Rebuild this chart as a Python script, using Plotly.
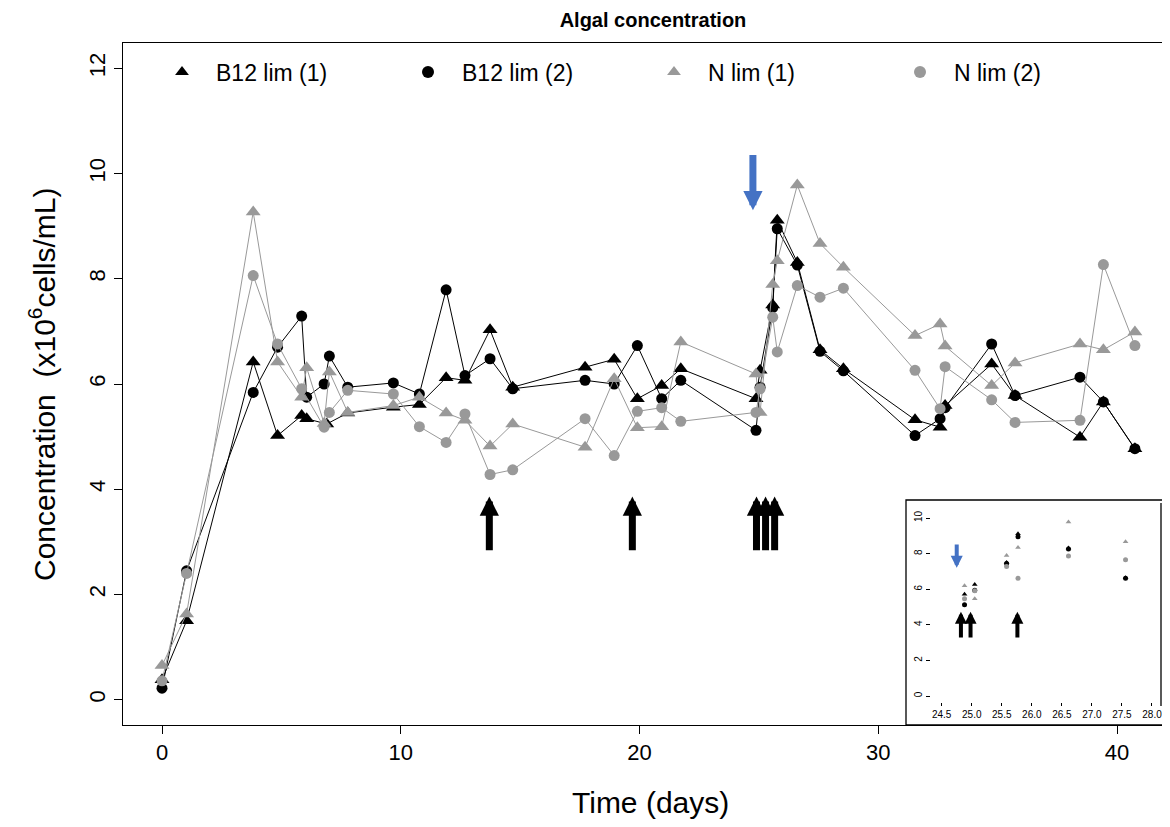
import plotly.graph_objects as go

# ---------------- data ----------------
days_b1 = [0, 1.03, 3.82, 4.84, 5.85, 6.06, 6.9, 7.78, 9.69, 10.78, 11.90, 12.69, 13.74, 14.69,
           17.72, 18.94, 19.91, 20.93, 21.73, 24.88, 25.05, 25.58, 25.77, 26.61, 27.56, 28.54,
           31.54, 32.59, 32.80, 34.75, 35.73, 38.45, 39.43, 40.75]
b12_lim_1 = [0.38, 1.50, 6.42, 5.02, 5.40, 5.34, 5.24, 5.45, 5.56, 5.61, 6.12, 6.07, 7.03, 5.94,
             6.32, 6.47, 5.72, 5.97, 6.29, 5.72, 6.26, 7.50, 9.11, 8.31, 6.65, 6.29,
             5.32, 5.18, 5.59, 6.38, 5.78, 4.99, 5.66, 4.77]

days_b2 = [0, 1.03, 3.82, 4.84, 5.85, 6.06, 6.79, 7.01, 7.78, 9.69, 10.78, 11.90, 12.69, 13.74, 14.69,
           17.72, 18.94, 19.91, 20.93, 21.73, 24.88, 25.05, 25.58, 25.77, 26.61, 27.56, 28.54,
           31.54, 32.59, 32.80, 34.75, 35.73, 38.45, 39.43, 40.75]
b12_lim_2 = [0.22, 2.45, 5.84, 6.70, 7.29, 5.75, 6.00, 6.53, 5.94, 6.02, 5.81, 7.79, 6.16, 6.48, 5.91,
             6.07, 6.00, 6.73, 5.72, 6.07, 5.12, 5.94, 7.45, 8.95, 8.26, 6.62, 6.25,
             5.02, 5.34, 5.55, 6.76, 5.78, 6.13, 5.66, 4.77]

days_n1 = [0, 1.03, 3.82, 4.84, 5.85, 6.06, 6.79, 7.01, 7.78, 9.69, 10.78, 11.90, 12.69, 13.74, 14.69,
           17.72, 18.94, 19.91, 20.93, 21.73, 24.88, 25.05, 25.58, 25.77, 26.61, 27.56, 28.54,
           31.54, 32.59, 32.80, 34.75, 35.73, 38.45, 39.43, 40.75]
n_lim_1 = [0.65, 1.63, 9.27, 6.42, 5.75, 6.31, 5.25, 6.23, 5.46, 5.59, 5.75, 5.45, 5.31, 4.82, 5.24,
           4.80, 6.10, 5.17, 5.19, 6.80, 6.19, 5.46, 7.89, 8.34, 9.78, 8.67, 8.22,
           6.92, 7.14, 6.72, 5.97, 6.40, 6.76, 6.65, 6.99]

days_n2 = [0, 1.03, 3.82, 4.84, 5.85, 6.79, 7.01, 7.78, 9.69, 10.78, 11.90, 12.69, 13.74, 14.69,
           17.72, 18.94, 19.91, 20.93, 21.73, 24.88, 25.05, 25.58, 25.77, 26.61, 27.56, 28.54,
           31.54, 32.59, 32.80, 34.75, 35.73, 38.45, 39.43, 40.75]
n_lim_2 = [0.36, 2.40, 8.06, 6.76, 5.91, 5.18, 5.46, 5.88, 5.81, 5.19, 4.89, 5.43, 4.28, 4.37,
           5.34, 4.64, 5.48, 5.55, 5.29, 5.46, 5.91, 7.27, 6.61, 7.87, 7.65, 7.82,
           6.26, 5.53, 6.33, 5.70, 5.27, 5.31, 8.27, 6.73]

series_names = ["B12 lim (1)", "B12 lim (2)", "N lim (1)", "N lim (2)"]

# event arrows (days)
addition_days_main = [13.71, 19.70, 24.90, 25.28, 25.66]
addition_days_inset = [24.82, 24.98, 25.76]
nutrient_day = 24.75

x_ticks = [0, 10, 20, 30, 40]
y_ticks = [0, 2, 4, 6, 8, 10, 12]
inset_x_ticks = [24.5, 25.0, 25.5, 26.0, 26.5, 27.0, 27.5, 28.0]
inset_y_ticks = [0, 2, 4, 6, 8, 10]

# ---------------- styling ----------------
BLACK = "#000000"
GREY = "#999999"
BLUE = "#4472C4"
FONT = "Liberation Sans, Arial, sans-serif"

OFF = 8                      # page body margin of the browser
W, H = 1170 - OFF, 827 - OFF
L, T = 123 - OFF, 43 - OFF
R = 0
B = H - (725 - OFF)
PW, PH = W - L - R, H - T - B


def px_to_paper_x(px):
    return (px - OFF - L) / PW


def px_to_paper_y(py):
    return (H - B - (py - OFF)) / PH


def day_range():
    per_day = 23.875
    return [(123 - 162) / per_day, (1170 - 162) / per_day]


fig = go.Figure()

styles = [
    (days_b1, b12_lim_1, "triangle-up", BLACK, 13),
    (days_b2, b12_lim_2, "circle", BLACK, 11),
    (days_n1, n_lim_1, "triangle-up", GREY, 13),
    (days_n2, n_lim_2, "circle", GREY, 11),
]

for name, (d, v, sym, col, sz) in zip(series_names, styles):
    fig.add_trace(go.Scatter(
        x=d, y=v, mode="lines", name=name, showlegend=False,
        line=dict(color=col, width=1), hoverinfo="skip",
    ))
    fig.add_trace(go.Scatter(
        x=d, y=v, mode="markers", name=name,
        marker=dict(symbol=sym, size=sz, color=col),
    ))

# inset: same data, markers only
for name, (d, v, sym, col, sz) in zip(series_names, styles):
    fig.add_trace(go.Scatter(
        x=d, y=v, mode="markers", name=name, showlegend=False,
        marker=dict(symbol=sym, size=5, color=col),
        xaxis="x2", yaxis="y2",
    ))

annotations = []
for dday in addition_days_main:
    annotations.append(dict(
        x=dday, y=3.86, ax=dday, ay=2.81, xref="x", yref="y", axref="x", ayref="y",
        text="", showarrow=True, arrowhead=2, arrowsize=0.55, arrowwidth=7, arrowcolor=BLACK,
    ))
annotations.append(dict(
    x=nutrient_day, y=9.30, ax=nutrient_day, ay=10.38, xref="x", yref="y", axref="x", ayref="y",
    text="", showarrow=True, arrowhead=2, arrowsize=0.55, arrowwidth=7, arrowcolor=BLUE,
))
for dday in addition_days_inset:
    annotations.append(dict(
        x=dday, y=4.74, ax=dday, ay=3.2, xref="x2", yref="y2", axref="x2", ayref="y2",
        text="", showarrow=True, arrowhead=2, arrowsize=0.6, arrowwidth=4, arrowcolor=BLACK,
    ))
annotations.append(dict(
    x=nutrient_day, y=7.2, ax=nutrient_day, ay=8.6, xref="x2", yref="y2", axref="x2", ayref="y2",
    text="", showarrow=True, arrowhead=2, arrowsize=0.6, arrowwidth=4, arrowcolor=BLUE,
))
# axis titles
annotations.append(dict(
    text="Time (days)", x=px_to_paper_x(650), y=px_to_paper_y(803), xref="paper", yref="paper",
    xanchor="center", yanchor="middle", showarrow=False,
    font=dict(size=30, family=FONT, color=BLACK),
))
annotations.append(dict(
    text="Concentration&nbsp; (x10<sup>6</sup>cells/mL)", x=px_to_paper_x(42), y=px_to_paper_y(384),
    xref="paper", yref="paper", xanchor="center", yanchor="middle", textangle=-90, showarrow=False,
    font=dict(size=30, family=FONT, color=BLACK),
))

shapes = [
    dict(type="rect", xref="paper", yref="paper",
         x0=px_to_paper_x(906), x1=1.02, y0=0, y1=px_to_paper_y(500),
         line=dict(color=BLACK, width=1.3), fillcolor="white", layer="below"),
    dict(type="line", xref="paper", yref="paper",
         x0=px_to_paper_x(1161), x1=px_to_paper_x(1161),
         y0=px_to_paper_y(706), y1=px_to_paper_y(503),
         line=dict(color=BLACK, width=1.3)),
]

ITEMW = 58
fig.update_layout(
    width=W, height=H,
    margin=dict(l=L, r=R, t=T, b=B, pad=0),
    paper_bgcolor="white", plot_bgcolor="white",
    font=dict(family=FONT, color=BLACK),
    title=dict(text="<b>Algal concentration</b>", x=px_to_paper_x(653), xref="paper", xanchor="center",
               y=1 - (20 - OFF) / H, yref="container", yanchor="middle",
               font=dict(size=20, family=FONT, color=BLACK)),
    showlegend=True,
    legend=dict(orientation="h", x=px_to_paper_x(179 - (ITEMW / 2 + 2)), y=px_to_paper_y(72),
                xanchor="left", yanchor="middle", entrywidth=248 - ITEMW - 17, entrywidthmode="pixels",
                itemsizing="constant", bgcolor="rgba(0,0,0,0)", itemwidth=ITEMW,
                font=dict(size=23, family=FONT, color=BLACK)),
    xaxis=dict(range=day_range(), tickvals=x_ticks,
               ticks="outside", ticklen=8, tickwidth=1, tickcolor=BLACK,
               showline=True, linecolor=BLACK, linewidth=1, mirror=True,
               showgrid=False, zeroline=False,
               tickfont=dict(size=22, family=FONT, color=BLACK)),
    yaxis=dict(range=[-0.48, 12.48], tickvals=y_ticks, tickangle=-90,
               ticks="outside", ticklen=8, tickwidth=1, tickcolor=BLACK,
               showline=True, linecolor=BLACK, linewidth=1, mirror=False,
               showgrid=False, zeroline=False,
               tickfont=dict(size=22, family=FONT, color=BLACK)),
    xaxis2=dict(domain=[px_to_paper_x(931), px_to_paper_x(1161)], anchor="y2",
                range=[24.322, 28.15], tickvals=inset_x_ticks, tickformat=".1f",
                ticks="outside", ticklen=3, tickcolor=BLACK, showline=False,
                showgrid=False, zeroline=False,
                tickfont=dict(size=10, family=FONT, color=BLACK)),
    yaxis2=dict(domain=[px_to_paper_y(702), px_to_paper_y(503)], anchor="x2",
                range=[(696 - 702) / 17.8, (696 - 503) / 17.8], tickvals=inset_y_ticks, tickangle=-90,
                ticks="outside", ticklen=4, tickcolor=BLACK, showline=False,
                showgrid=False, zeroline=False,
                tickfont=dict(size=10, family=FONT, color=BLACK)),
    annotations=annotations,
    shapes=shapes,
)

fig.write_html("out.html")
